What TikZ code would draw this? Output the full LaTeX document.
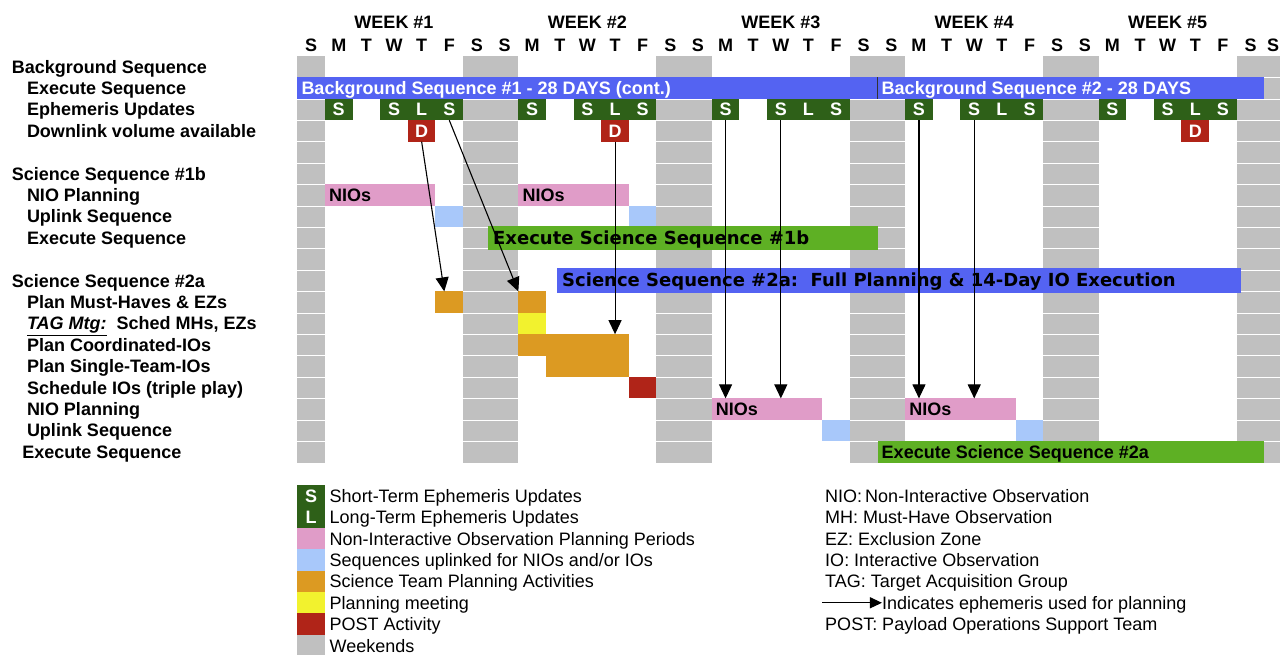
\documentclass[tikz,border=0pt]{standalone}
\usepackage{fontspec}
\setmainfont{Liberation Sans}
\newfontfamily\verdfont{DejaVu Sans}
\usetikzlibrary{arrows.meta}

\definecolor{bgblue}{RGB}{84,99,242}
\definecolor{ephgreen}{RGB}{46,96,24}
\definecolor{postred}{RGB}{176,36,24}
\definecolor{niopink}{RGB}{224,156,200}
\definecolor{upblue}{RGB}{168,200,250}
\definecolor{teamorange}{RGB}{220,154,34}
\definecolor{meetyellow}{RGB}{242,242,46}
\definecolor{execgreen}{RGB}{94,176,36}
\definecolor{wkgrey}{RGB}{192,192,192}

\tikzset{
  cell/.style={anchor=north west, inner sep=0pt, outer sep=0pt, minimum height=21.4pt, minimum width=27.63pt},
  days/.style={minimum width=#1*27.63pt},
  capc/.style={text height=12.9pt, text depth=0pt, inner sep=0pt},
  bigb/.style={font=\fontsize{18}{21}\selectfont\bfseries},
  plain/.style={font=\fontsize{18}{21}\selectfont},
  verd/.style={font=\fontsize{18}{21}\verdfont\bfseries},
  ephbox/.style={cell, capc, bigb, fill=ephgreen, text=white},
  postbox/.style={cell, capc, bigb, fill=postred, text=white},
  rowlbl/.style={capc, bigb, anchor=west},
  bartxt/.style={capc, bigb, anchor=west},
  arr/.style={line width=1.1pt, -{Triangle[length=14pt,width=13pt]}},
}

\begin{document}
\begin{tikzpicture}[x=1pt, y=-1pt]
\useasboundingbox (0,0) rectangle (1280,654);
\begin{scope}[shift={(297.3,56)}, x=27.63pt, y=-21.4pt]
% weekends
\foreach \d in {0,6,7,13,14,20,21,27,28,34,35}
  \fill[wkgrey] (\d,0) rectangle (\d+1,19);
\foreach \r in {1,...,18}
  \draw[white, line width=0.6pt] (0,\r) -- (36,\r);

% header
\foreach \w in {1,...,5}
  \node[capc, bigb] (wk\w) at (7*\w-3.5,-1.565) {WEEK \#\w};
\foreach \w in {0,...,4}
  \foreach \d/\t in {0/S,1/M,2/T,3/W,4/T,5/F,6/S}
    \node[capc, bigb] (dy\w\d) at (7*\w+\d+0.5,-0.514) {\t};
\node[capc, bigb] (dy50) at (35.32,-0.514) {S};

% row labels
\foreach \r/\x/\t in {0/-10.34/{Background Sequence}, 1/-9.79/{Execute Sequence},
    2/-9.79/{Ephemeris Updates}, 3/-9.79/{Downlink volume available},
    5/-10.34/{Science Sequence \#1b}, 6/-9.79/{NIO Planning},
    7/-9.79/{Uplink Sequence}, 8/-9.79/{Execute Sequence},
    10/-10.34/{Science Sequence \#2a}, 11/-9.79/{Plan Must-Haves \& EZs},
    12/-9.79/{\underline{\textit{TAG Mtg:}}\ \ Sched MHs, EZs},
    13/-9.79/{Plan Coordinated-IOs}, 14/-9.79/{Plan Single-Team-IOs},
    15/-9.79/{Schedule IOs (triple play)}, 16/-9.79/{NIO Planning},
    17/-9.79/{Uplink Sequence}, 18/-9.96/{Execute Sequence}}
  \node[rowlbl] (lbl\r) at (\x,\r+0.5) {\t};

% background sequence
\node[cell, days=21, fill=bgblue] (bg1) at (0,1) {};
\node[cell, days=14, fill=bgblue] (bg2) at (21,1) {};
\draw[black!80, line width=1.2pt] (bg2.north west) -- (bg2.south west);
\node[bartxt, text=white] (bg1t) at ([xshift=4pt]bg1.west) {Background Sequence \#1 - 28 DAYS (cont.)};
\node[bartxt, text=white] (bg2t) at ([xshift=4pt]bg2.west) {Background Sequence \#2 - 28 DAYS};

% ephemeris updates and downlink
\foreach \w in {0,...,4}
  \foreach \d/\t in {1/S,3/S,4/L,5/S} {
    \pgfmathtruncatemacro\i{7*\w+\d}
    \node[ephbox] (eph\i) at (\i,2) {\t};
  }
\foreach \i in {4,11,32}
  \node[postbox] (dl\i) at (\i,3) {D};

% science sequence 1b
\node[cell, days=4, fill=niopink] (nioA) at (1,6) {};
\node[cell, days=4, fill=niopink] (nioB) at (8,6) {};
\node[bartxt] (nioAt) at ([xshift=4pt]nioA.west) {NIOs};
\node[bartxt] (nioBt) at ([xshift=4pt]nioB.west) {NIOs};
\node[cell, fill=upblue] (upA) at (5,7) {};
\node[cell, fill=upblue] (upB) at (12,7) {};
\node[cell, days=14.1, minimum height=23.8pt, fill=execgreen] (ex1b) at (6.9,7.944) {};
\node[bartxt, verd] (ex1bt) at ([xshift=5pt]ex1b.west) {Execute Science Sequence \#1b};

% science sequence 2a
\node[cell, days=24.74, minimum height=25pt, fill=bgblue] (sci2a) at (9.4,9.89) {};
\node[bartxt, verd] (sci2at) at ([xshift=5pt]sci2a.west) {Science Sequence \#2a:\ \ Full Planning \& 14-Day IO Execution};
\node[cell, fill=teamorange] (mhA) at (5,11) {};
\node[cell, fill=teamorange] (mhB) at (8,11) {};
\node[cell, fill=meetyellow] (tag) at (8,12) {};
\node[cell, days=4, fill=teamorange] (pc) at (8,13) {};
\node[cell, days=3, fill=teamorange] (ps) at (9,14) {};
\node[cell, fill=postred] (sch) at (12,15) {};
\node[cell, days=4, fill=niopink] (nioC) at (15,16) {};
\node[cell, days=4, fill=niopink] (nioD) at (22,16) {};
\node[bartxt] (nioCt) at ([xshift=4pt]nioC.west) {NIOs};
\node[bartxt] (nioDt) at ([xshift=4pt]nioD.west) {NIOs};
\node[cell, fill=upblue] (upC) at (19,17) {};
\node[cell, fill=upblue] (upD) at (26,17) {};
\node[cell, days=14, fill=execgreen] (ex2a) at (21,18) {};
\node[bartxt] (ex2at) at ([xshift=4pt]ex2a.west) {Execute Science Sequence \#2a};

% ephemeris used for planning
\draw[arr] (dl4.south) -- ([xshift=-5pt]mhA.north);
\draw[arr] (eph5.south) -- (mhB.north west);
\draw[arr] (dl11.south) -- (dl11.south |- pc.north);
\foreach \i/\n in {15/nioC,17/nioC,22/nioD,24/nioD}
  \draw[arr] (eph\i.south) -- (eph\i.south |- \n.north);

% legend
\node[ephbox] (kS) at (0,20.05) {S};
\node[ephbox] (kL) at (0,21.05) {L};
\foreach \k/\c in {2/niopink,3/upblue,4/teamorange,5/meetyellow,6/postred,7/wkgrey}
  \node[cell, fill=\c] (k\k) at (0,20.05+\k) {};
\foreach \k/\t in {S/{Short-Term Ephemeris Updates}, L/{Long-Term Ephemeris Updates},
    2/{Non-Interactive Observation Planning Periods},
    3/{Sequences uplinked for NIOs and/or IOs},
    4/{Science Team Planning Activities}, 5/{Planning meeting},
    6/{POST Activity}, 7/{Weekends}}
  \node[capc, plain, anchor=west] (k\k txt) at ([xshift=4.6pt]k\k.east) {\t};

\foreach \k/\t in {0/{NIO:\hspace{3pt}Non-Interactive Observation},
    1/{MH: Must-Have Observation}, 2/{EZ: Exclusion Zone},
    3/{IO: Interactive Observation}, 4/{TAG: Target Acquisition Group},
    6/{POST: Payload Operations Support Team}}
  \node[capc, plain, anchor=west] (gl\k) at (19.1,20.55+\k) {\t};
\coordinate (ga) at (18.99,25.55);
\node[capc, plain, anchor=west] (gl5) at (21.16,25.55) {Indicates ephemeris used for planning};
\draw[line width=1.2pt, -{Triangle[length=12pt,width=11pt]}] (ga) -- (gl5.west);
\end{scope}
\end{tikzpicture}
\end{document}
